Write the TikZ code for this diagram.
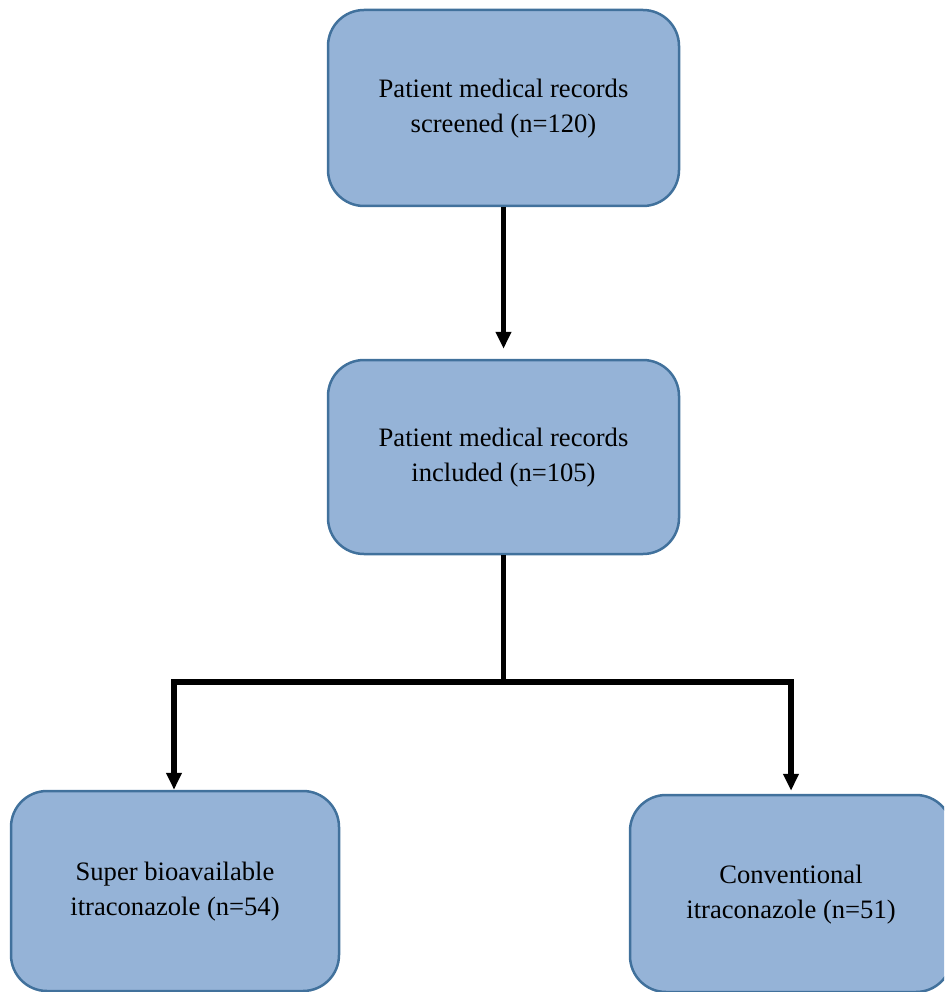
\documentclass[tikz,border=0pt]{standalone}
\usepackage{fontspec}
\setmainfont{Liberation Serif}
\usetikzlibrary{arrows.meta}
\definecolor{boxfill}{HTML}{95B3D7}
\definecolor{boxline}{HTML}{41719C}
\newcommand{\twolines}[2]{\raisebox{-2pt}{\begin{tabular}{@{}c@{}}#1\\#2\end{tabular}}}
\tikzset{
  flowbox/.style={draw=boxline, fill=boxfill, line width=2.5pt, rounded corners=36pt,
    inner sep=0pt, font=\fontsize{26.6}{35}\selectfont},
  conn/.style={line width=5.5pt, draw=black},
  arr/.style={conn, -{Triangle[length=17pt,width=15pt]}},
}
\begin{document}
\begin{tikzpicture}[x=1pt,y=-1pt]
\useasboundingbox (0,0) rectangle (944,992);
\clip (0,0) rectangle (944,992);
\node[flowbox, minimum width=351pt, minimum height=196pt] (b1) at (503.5,108) {\twolines{Patient medical records}{screened (n=120)}};
\node[flowbox, minimum width=351pt, minimum height=194pt] (b2) at (503.5,457) {\twolines{Patient medical records}{included (n=105)}};
\node[flowbox, minimum width=328pt, minimum height=200pt] (b3) at (175,891) {\twolines{Super bioavailable}{itraconazole (n=54)}};
\node[flowbox, minimum width=322pt, minimum height=197pt] (b4) at (791,893.5) {\twolines{Conventional}{itraconazole (n=51)}};
\coordinate (j) at (503.5,682);
\coordinate (l) at (174,682);
\coordinate (r) at (791,682);
\draw[arr, shorten >=10pt] (b1.south) -- (b2.north);
\draw[conn] (b2.south) -- ([yshift=2pt]b2.south |- j);
\draw[conn, line cap=rect] (l) -- (r);
\draw[arr] (l) -- (l |- b3.north);
\draw[arr, shorten >=3pt] (r) -- (r |- b4.north);
\end{tikzpicture}
\end{document}
